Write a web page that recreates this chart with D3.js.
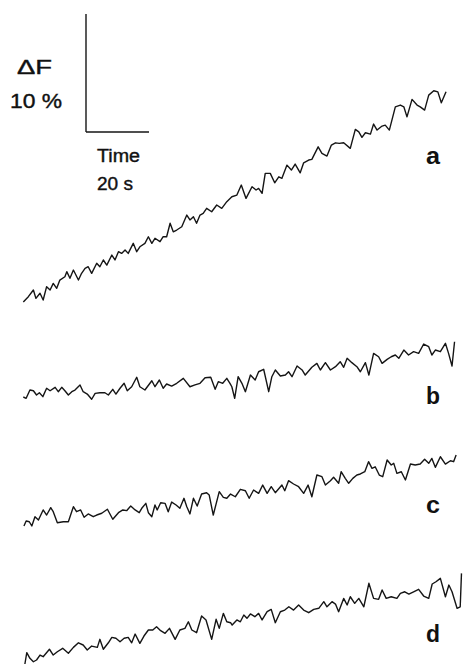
<!DOCTYPE html>
<html>
<head>
<meta charset="utf-8">
<script src="https://cdn.jsdelivr.net/npm/d3@7"></script>
<style>
  body { margin: 0; background: #fff; }
  svg text { font-family: "Liberation Sans", Arial, Helvetica, sans-serif; fill: #111; }
</style>
</head>
<body>
<svg id="chart" width="464" height="665"></svg>
<script>
// fluorescence traces, [time (s), dF (%)], each relative to its own start
const traceA = [[0.1,0],[1.7,0.45],[3.3,1.02],[4.1,0.31],[5.4,0.74],[6.4,0.17],[7.5,1.3],[8.6,1.02],[9.6,1.58],[10.7,1.16],[11.7,1.86],[13.3,2.14],[13.9,2.57],[14.9,2.01],[16.0,2.71],[17.6,1.86],[18.6,2.43],[19.7,2.85],[20.7,2.99],[21.8,2.43],[23.4,3.28],[24.4,2.99],[25.5,3.56],[26.6,3.13],[28.2,3.98],[29.2,3.56],[30.3,4.26],[31.3,4.12],[32.4,4.4],[33.4,4.12],[35.0,4.97],[36.1,4.26],[37.1,4.68],[38.7,4.97],[39.8,5.53],[40.9,4.97],[41.9,5.4],[43.5,5.11],[44.5,5.53],[45.6,5.53],[46.7,6.67],[47.7,5.95],[48.8,6.1],[50.4,6.38],[52.0,7.37],[53.0,6.95],[54.1,7.23],[55.1,6.67],[56.2,7.37],[57.2,7.51],[58.3,7.94],[59.9,7.65],[61.5,8.22],[63.1,7.94],[64.7,8.5],[66.3,8.92],[67.9,9.06],[69.3,9.91],[70.8,8.78],[72.7,9.77],[74.0,9.49],[74.8,9.63],[75.9,9.21],[76.9,10.9],[78.5,10.9],[79.9,10.1],[81.2,10.61],[82.2,10.48],[83.8,11.6],[85.2,11.18],[86.4,11.69],[88.0,10.95],[89.1,11.8],[90.7,12.03],[91.7,12.09],[93.7,13.15],[94.9,12.6],[96.5,12.37],[97.9,13.3],[99.2,13.49],[100.4,13.44],[101.8,13.49],[103.9,13.02],[105.5,14.63],[106.6,14.42],[107.6,13.95],[108.7,14.34],[110.3,14.23],[111.3,15.08],[112.4,14.57],[114.0,14.91],[115.0,14.99],[116.3,14.57],[118.2,16.54],[119.8,16.69],[120.9,16.54],[121.9,15.69],[123.5,17.17],[125.1,16.69],[126.1,16.54],[127.5,16.26],[128.8,17.53],[130.4,17.9],[131.7,17.81],[132.8,16.88],[134.3,17.81]];

const traceB = [[0.1,0],[1.0,-0.11],[2.2,0.59],[3.3,0.53],[4.3,0.17],[5.2,0.36],[6.3,0.03],[7.5,0.74],[8.6,0.53],[10.2,0.82],[11.2,0.45],[12.3,0.82],[13.3,0.53],[14.4,0.17],[15.5,0.45],[16.5,0.59],[18.1,1.02],[19.1,0.45],[20.4,0.25],[21.8,-0.19],[22.9,0.31],[24.4,0.36],[26.0,0.36],[27.1,0.17],[28.5,0.65],[29.5,0.25],[30.8,0.74],[32.1,1.16],[33.1,0.53],[34.5,0.87],[36.1,1.67],[37.1,0.87],[38.7,0.59],[40.9,1.38],[41.9,0.87],[43.3,1.44],[44.5,0.74],[45.6,1.1],[47.2,0.93],[48.8,1.16],[50.9,1.58],[53.0,0.87],[54.6,1.02],[56.2,1.16],[57.8,1.63],[59.6,1.67],[61.0,0.65],[62.0,1.3],[63.4,1.16],[64.7,1.58],[65.7,1.16],[66.3,0.87],[67.2,-0.11],[68.3,1.72],[69.5,1.16],[70.6,0.45],[72.2,1.86],[73.7,1.44],[74.8,2.14],[76.4,2.35],[78.0,0.45],[79.0,1.72],[80.1,2.29],[81.7,1.78],[83.3,1.86],[84.3,2.14],[85.4,1.72],[87.0,2.63],[88.6,2.29],[89.6,1.86],[91.7,2.52],[93.3,2.85],[94.4,2.29],[96.0,2.91],[97.6,2.29],[99.2,2.57],[100.7,2.99],[101.8,2.52],[102.9,3.28],[104.4,2.91],[106.0,2.57],[107.1,2.14],[108.7,2.91],[109.8,1.86],[111.3,3.7],[112.9,3.41],[114.0,2.85],[115.6,3.19],[116.9,3.41],[118.2,3.56],[119.3,3.28],[120.9,3.98],[122.4,3.56],[124.0,3.84],[125.6,3.7],[127.2,4.49],[128.8,4.26],[129.8,3.56],[130.9,3.98],[132.5,3.84],[134.1,4.55],[135.1,3.7],[136.2,2.63],[137.0,4.68]];

const traceC = [[0.3,-0.17],[1.0,0.25],[2.0,0.19],[2.8,-0.17],[3.8,0.62],[4.9,0.34],[6.4,1.19],[7.5,0.76],[8.8,1.38],[9.6,1.04],[10.9,0.11],[12.8,0.19],[14.4,0.19],[16.0,1.47],[17.0,1.04],[18.3,1.19],[19.4,0.57],[20.7,0.85],[22.3,0.62],[23.4,0.76],[25.0,0.91],[26.8,1.25],[28.5,0.4],[30.3,0.96],[31.7,1.19],[32.9,1.13],[34.2,1.52],[35.6,1.19],[36.9,0.96],[37.7,1.33],[39.0,1.75],[39.8,0.96],[40.9,0.62],[41.9,1.61],[42.6,1.19],[43.7,1.8],[45.1,1.75],[46.1,1.04],[47.2,1.86],[48.6,1.61],[49.8,1.33],[51.1,2.18],[52.0,1.47],[53.0,0.85],[54.1,2.18],[55.3,1.52],[56.7,2.54],[58.3,2.65],[59.1,2.46],[60.4,0.76],[62.3,2.74],[63.6,2.26],[64.7,2.18],[65.9,2.54],[67.4,2.31],[69.0,2.94],[70.6,2.82],[71.8,2.18],[73.2,2.88],[74.8,2.6],[76.1,3.3],[77.5,2.6],[78.8,3.16],[80.1,2.65],[82.2,3.3],[83.1,2.82],[84.3,3.67],[85.9,3.39],[87.5,3.16],[89.1,2.6],[90.5,3.3],[91.7,2.31],[93.3,4.15],[94.9,4.01],[96.0,3.3],[97.6,3.67],[98.6,3.96],[100.2,3.45],[101.0,4.43],[102.3,3.87],[103.4,3.45],[104.7,3.87],[106.0,4.15],[107.1,4.24],[108.5,4.43],[109.7,5.28],[110.8,4.72],[111.8,4.85],[113.1,4.15],[114.2,4.01],[115.6,5.42],[116.9,5.0],[117.7,5.14],[118.7,4.29],[120.1,4.43],[121.4,3.73],[123.0,5.08],[124.5,5.0],[126.1,5.08],[127.5,5.48],[128.8,5.14],[129.8,5.56],[130.9,4.8],[132.5,5.7],[134.1,5.08],[135.7,5.36],[136.7,5.28],[137.5,5.84]];

const traceD = [[0.6,0],[1.2,0.96],[2.2,0.48],[3.3,0.19],[4.3,0.34],[5.4,0.76],[6.4,0.62],[8.4,1.25],[9.6,0.76],[10.9,1.04],[12.6,1.33],[14.4,0.91],[16.0,1.41],[17.6,1.8],[19.1,1.61],[20.4,1.19],[21.8,1.52],[23.6,1.41],[24.4,2.09],[25.5,1.25],[27.1,1.8],[28.2,2.26],[29.5,2.18],[30.8,1.89],[32.1,2.18],[33.4,2.26],[34.5,1.8],[35.6,2.54],[37.1,1.75],[38.4,2.37],[39.8,2.88],[41.2,2.88],[42.4,3.16],[43.7,2.82],[45.1,2.6],[46.5,3.02],[48.3,2.09],[49.8,2.88],[51.4,3.02],[52.5,3.58],[53.6,2.88],[55.1,2.65],[56.7,4.07],[58.1,3.73],[59.9,2.09],[61.3,3.79],[62.3,3.02],[63.6,4.29],[64.7,3.58],[65.9,3.5],[66.4,3.3],[67.9,3.73],[69.0,3.58],[70.1,4.15],[71.1,3.87],[72.2,4.24],[73.6,4.01],[74.8,4.29],[75.9,3.73],[77.5,4.43],[78.8,4.63],[80.1,3.5],[81.7,4.43],[83.1,4.57],[84.4,4.85],[85.9,4.57],[87.5,5.0],[89.1,4.57],[90.7,4.35],[92.3,4.63],[93.9,4.72],[95.5,5.28],[96.5,4.85],[98.1,5.28],[99.2,5.08],[100.2,4.43],[101.8,5.56],[102.9,5.0],[103.9,5.7],[105.3,5.14],[106.6,5.56],[108.2,4.85],[109.8,6.84],[111.3,5.56],[112.9,5.48],[114.0,6.27],[115.3,5.56],[116.9,5.7],[118.7,5.56],[119.8,5.99],[121.2,6.12],[122.5,5.93],[124.0,6.12],[125.6,6.33],[127.2,5.76],[128.8,5.56],[129.9,6.78],[131.1,6.97],[132.5,7.26],[134.1,5.7],[135.2,6.69],[136.2,6.12],[137.8,4.72],[138.8,4.85],[139.2,7.68]];

const traces = [traceA, traceB, traceC, traceD];
const traceNames = ["a", "b", "c", "d"];

// calibration bar
const barTime = 20;   // s
const barDF = 10;     // %
const barLabels = ["\u0394F", "10 %", "Time", "20 s"];

// layout
const W = 464, H = 665;
const pxPerSec = 3.15, pxPerPct = 11.8;
const x0 = 23;
const baselines = [302, 397, 524, 664];
const nameY = [164, 404, 513, 642];

const svg = d3.select("#chart");
svg.append("rect").attr("width", W).attr("height", H).attr("fill", "#fff");

const x = d3.scaleLinear().domain([0, 140]).range([x0, x0 + 140 * pxPerSec]);

traces.forEach((tr, i) => {
  const y = d3.scaleLinear().domain([0, 10]).range([baselines[i], baselines[i] - 10 * pxPerPct]);
  const line = d3.line().x(d => x(d[0])).y(d => y(d[1]));
  svg.append("path")
    .datum(tr)
    .attr("d", line)
    .attr("fill", "none")
    .attr("stroke", "#151515")
    .attr("stroke-width", 1.4)
    .attr("stroke-linejoin", "round");
  svg.append("text")
    .attr("x", 426)
    .attr("y", nameY[i])
    .attr("font-size", 24)
    .attr("font-weight", "bold")
    .attr("textLength", 14)
    .attr("lengthAdjust", "spacingAndGlyphs")
    .text(traceNames[i]);
});

// scale bar, drawn with the same px per unit as the traces
const barX = d3.scaleLinear().domain([0, barTime]).range([86, 86 + barTime * pxPerSec]);
const barY = d3.scaleLinear().domain([0, barDF]).range([132, 132 - barDF * pxPerPct]);
const bar = svg.append("g").attr("fill", "none").attr("stroke", "#151515").attr("stroke-width", 1.4);
bar.append("line").attr("x1", barX(0)).attr("x2", barX(0)).attr("y1", barY(0)).attr("y2", barY(barDF));
bar.append("line").attr("x1", barX(0)).attr("x2", barX(barTime)).attr("y1", barY(0)).attr("y2", barY(0));

const labelPos = [
  { x: 17, y: 74, size: 20, len: 35 },
  { x: 10, y: 108, size: 20, len: 52 },
  { x: 97, y: 162, size: 18, len: 43 },
  { x: 97, y: 190, size: 18, len: 36 }
];
barLabels.forEach((t, i) => {
  const p = labelPos[i];
  svg.append("text")
    .attr("x", p.x).attr("y", p.y)
    .attr("font-size", p.size)
    .attr("stroke", "#111").attr("stroke-width", 0.4)
    .attr("textLength", p.len)
    .attr("lengthAdjust", "spacingAndGlyphs")
    .text(t);
});
</script>
</body>
</html>
